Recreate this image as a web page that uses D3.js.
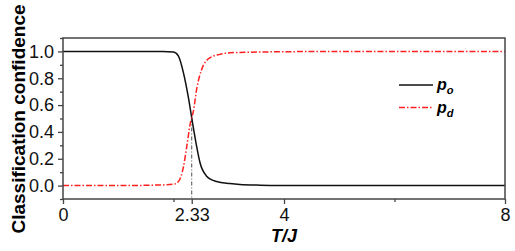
<!DOCTYPE html>
<html>
<head>
<meta charset="utf-8">
<script src="https://cdn.jsdelivr.net/npm/d3@7"></script>
<style>
  body { margin: 0; background: #fff; }
  text { font-family: 'Liberation Sans', Arial, sans-serif; }
</style>
</head>
<body>
<div id="chart"></div>
<script>
// temperatures
const tO = [0, 1.0, 1.8, 2.0, 2.09, 2.18, 2.27, 2.33, 2.42, 2.48, 2.6, 2.66, 2.78, 3.02, 3.2, 3.57, 4.0, 5.0, 6.0, 8.0]
const pO = [1.0, 1.0, 1.0, 0.995, 0.965, 0.84, 0.655, 0.505, 0.29, 0.17, 0.07, 0.05, 0.03, 0.015, 0.008, 0.003, 0.001, 0.0, 0.0, 0.0]
const tD = [0, 1.0, 1.8, 2.0, 2.09, 2.18, 2.24, 2.3, 2.36, 2.42, 2.51, 2.66, 2.84, 3.02, 3.5, 4.5, 6.0, 8.0]
const pD = [0.0, 0.0, 0.005, 0.01, 0.03, 0.14, 0.29, 0.455, 0.555, 0.72, 0.866, 0.953, 0.978, 0.99, 0.995, 0.999, 1.0, 1.0]

const xTicks = [0, 2.33, 4, 8]
const xMinor = [2, 6]
const yMajor = [0.0, 0.2, 0.4, 0.6, 0.8, 1.0]
const yMinor = [-0.1, 0.1, 0.3, 0.5, 0.7, 0.9, 1.1]
const tc = 2.33

const width = 515, height = 251
const margin = {top: 38, right: 10, bottom: 52, left: 63}
const w = width - margin.left - margin.right
const h = height - margin.top - margin.bottom

const svg = d3.select('#chart').append('svg')
  .attr('width', width).attr('height', height)
const g = svg.append('g').attr('transform', `translate(${margin.left},${margin.top})`)

const xs = d3.scaleLinear().domain([0, 8]).range([0, w])
const ys = d3.scaleLinear().domain([-0.1, 1.1]).range([h, 0])

const axisColor = '#444'

// curves
const line = d3.line()
  .x((d) => xs(d[0]))
  .y((d) => ys(d[1]))
  .curve(d3.curveMonotoneX)

g.append('path')
  .datum(d3.zip(tO, pO))
  .attr('d', line)
  .attr('fill', 'none')
  .attr('stroke', '#111')
  .attr('stroke-width', 1.5)

g.append('path')
  .datum(d3.zip(tD, pD))
  .attr('d', line)
  .attr('fill', 'none')
  .attr('stroke', '#ff2020')
  .attr('stroke-width', 1.5)
  .attr('stroke-dasharray', '6,2,1.5,2')

// critical temperature marker
g.append('line')
  .attr('x1', xs(tc)).attr('x2', xs(tc))
  .attr('y1', ys(0.5)).attr('y2', h)
  .attr('stroke', '#222')
  .attr('stroke-width', 0.8)
  .attr('stroke-dasharray', '4,2,1,2')

// frame
g.append('rect')
  .attr('width', w).attr('height', h)
  .attr('fill', 'none')
  .attr('stroke', axisColor)
  .attr('stroke-width', 1.5)

// x axis
const xAxis = g.append('g').attr('transform', `translate(0,${h})`)
xAxis.call(d3.axisBottom(xs).tickValues(xTicks).tickSize(5).tickPadding(4)
  .tickFormat((d) => d === tc ? '2.33' : d3.format('d')(d)))
xAxis.append('g').call(d3.axisBottom(xs).tickValues(xMinor).tickSize(3).tickFormat(''))
xAxis.selectAll('.domain').remove()

// y axis
const yAxis = g.append('g')
yAxis.call(d3.axisLeft(ys).tickValues(yMajor).tickSize(5).tickPadding(4).tickFormat(d3.format('.1f')))
yAxis.append('g').call(d3.axisLeft(ys).tickValues(yMinor).tickSize(3).tickFormat(''))
yAxis.selectAll('.domain').remove()

svg.selectAll('.tick line').attr('stroke', axisColor).attr('stroke-width', 1.3)
svg.selectAll('.tick text')
  .attr('fill', '#111')
  .style('font-size', '18px')
  .style('font-family', "'Liberation Sans', Arial, sans-serif")

// axis labels
svg.append('text')
  .attr('transform', `translate(${margin.left + w / 2},242)`)
  .attr('text-anchor', 'middle')
  .style('font-size', '18px')
  .style('font-weight', 'bold')
  .style('font-style', 'italic')
  .text('T/J')

svg.append('text')
  .attr('transform', `translate(25,119) rotate(-90)`)
  .attr('text-anchor', 'middle')
  .style('font-size', '19px')
  .style('font-weight', 'bold')
  .text('Classification confidence')

// legend
const legend = [
  {sub: 'o', color: '#111', dash: null},
  {sub: 'd', color: '#ff2020', dash: '6,2,1.5,2'}
]
const lg = svg.append('g').attr('transform', 'translate(399,85)')
legend.forEach((d, i) => {
  const row = lg.append('g').attr('transform', `translate(0,${i * 22.5})`)
  row.append('line')
    .attr('x1', 0).attr('x2', 34)
    .attr('stroke', d.color)
    .attr('stroke-width', 1.5)
    .attr('stroke-dasharray', d.dash)
  const t = row.append('text')
    .attr('x', 38).attr('y', 5)
    .style('font-size', '16px')
    .style('font-weight', 'bold')
    .style('font-style', 'italic')
  t.append('tspan').text('p')
  t.append('tspan').attr('dy', 4).style('font-size', '11px').text(d.sub)
})
</script>
</body>
</html>
